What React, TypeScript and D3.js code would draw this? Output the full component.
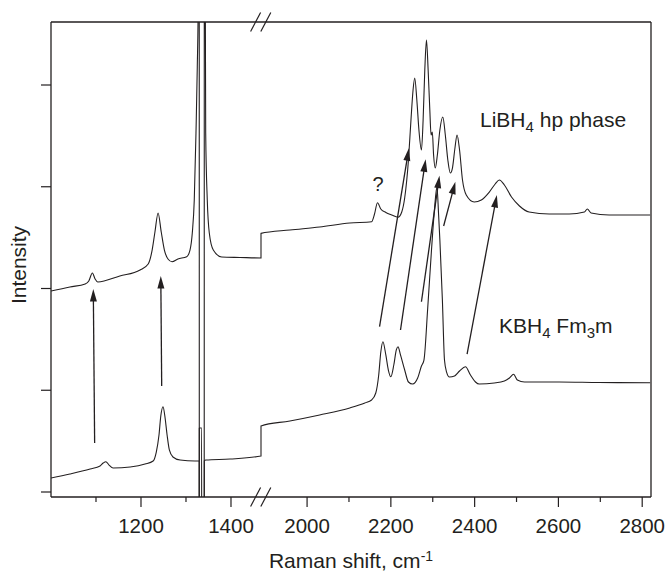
import React from 'react';
import * as d3 from 'd3';

// ---------- data ----------
const leftMajorTicks = [1200, 1400];
const leftMinorTicks = [1100, 1300];
const rightMajorTicks = [2000, 2200, 2400, 2600, 2800];
const rightMinorTicks = [2100, 2300, 2500, 2700];
const yTicks = [0, 1, 2, 3, 4];

// LiBH4 high-pressure phase spectrum (upper trace): [Raman shift, intensity a.u.]
const libh4Spectrum: [number, number][] = [
  [1000, 1.975], [1042, 2.015], [1076, 2.044], [1084, 2.074], [1092, 2.152], [1098, 2.093],
  [1104, 2.064], [1153, 2.123], [1198, 2.182], [1216, 2.241], [1224, 2.359], [1231, 2.555],
  [1238, 2.742], [1245, 2.555], [1252, 2.378], [1260, 2.29], [1269, 2.263], [1282, 2.29],
  [1301.6, 2.313], [1308.9, 2.378], [1314, 2.545], [1318.4, 2.87], [1322.2, 3.528], [1325.1, 4.177],
  [1327.3, 4.9], [1329.4, 8], [1329.6, -2], [1340.5, -2], [1340.7, 8], [1343.8, 3.528],
  [1347.3, 2.87], [1351.8, 2.545], [1360.7, 2.378], [1379.3, 2.31], [1420, 2.305], [1466.7, 2.3],
  [1890, 2.542], [1959, 2.575], [2030, 2.604], [2102, 2.644], [2154, 2.656], [2161, 2.732],
  [2168, 2.843], [2176, 2.781], [2188, 2.747], [2202, 2.722], [2217, 2.7], [2226, 2.752],
  [2233, 2.889], [2242, 3.263], [2248, 3.656], [2253, 3.951], [2257, 4.069], [2262, 3.853],
  [2267, 3.558], [2273, 3.361], [2277, 3.656], [2281, 4.147], [2285, 4.442], [2289, 4.147],
  [2293, 3.754], [2296, 3.509], [2299, 3.538], [2302, 3.312], [2306, 3.184], [2311, 3.312],
  [2317, 3.558], [2324, 3.686], [2330, 3.509], [2336, 3.263], [2342, 3.135], [2347, 3.184],
  [2353, 3.381], [2358, 3.509], [2364, 3.361], [2371, 3.066], [2380, 2.919], [2399, 2.85],
  [2416, 2.87], [2435, 2.948], [2449, 3.027], [2459, 3.066], [2471, 3.017], [2488, 2.899],
  [2507, 2.811], [2530, 2.752], [2578, 2.732], [2626, 2.732], [2662, 2.752], [2669, 2.781],
  [2678, 2.742], [2721, 2.722], [2769, 2.722], [2819, 2.722],
];

// KBH4 Fm3m spectrum (lower trace)
const kbh4Spectrum: [number, number][] = [
  [1000, 0.138], [1042, 0.177], [1087, 0.226], [1109, 0.256], [1116, 0.285], [1122, 0.298],
  [1129, 0.265], [1138, 0.236], [1176, 0.246], [1209, 0.275], [1227, 0.305], [1234, 0.393],
  [1240, 0.56], [1244, 0.747], [1249, 0.838], [1253, 0.747], [1258, 0.56], [1263, 0.413],
  [1271, 0.344], [1287, 0.314], [1320, 0.305], [1329.2, 0.305], [1329.4, -2], [1329.6, 0.629],
  [1334.8, 0.629], [1335, -2], [1340.5, -2], [1340.7, 0.305], [1344, 0.314], [1398, 0.324],
  [1466.7, 0.354],
  [1890, 0.649], [1959, 0.698], [2030, 0.757], [2102, 0.826], [2138, 0.875], [2154, 0.904],
  [2164, 0.973], [2171, 1.15], [2176, 1.376], [2181, 1.477], [2188, 1.347], [2194, 1.199],
  [2200, 1.133], [2207, 1.248], [2213, 1.396], [2217, 1.428], [2223, 1.347], [2233, 1.199],
  [2242, 1.081], [2252, 1.061], [2264, 1.12], [2273, 1.238], [2279, 1.297], [2288, 1.808],
  [2297, 2.378], [2304, 2.771], [2310, 2.998], [2314, 2.722], [2317, 2.477], [2323, 1.887],
  [2328, 1.297], [2333, 1.179], [2340, 1.13], [2352, 1.14], [2364, 1.189], [2378, 1.231],
  [2390, 1.15], [2402, 1.081], [2411, 1.061], [2447, 1.071], [2471, 1.091], [2483, 1.12],
  [2493, 1.157], [2502, 1.101], [2519, 1.081], [2602, 1.081], [2697, 1.076], [2819, 1.074],
];

// arrows: [tail shift, tail intensity, tip shift, tip intensity]
const peakArrows: [number, number, number, number][] = [
  [1097, 0.482, 1094, 1.995],
  [1246, 1.042, 1244, 2.123],
  [2173, 1.625, 2243, 3.378],
  [2223, 1.592, 2283, 3.27],
  [2273, 1.87, 2316, 3.109],
  [2326, 2.614, 2354, 3.05],
  [2382, 1.356, 2453, 2.919],
];

// ---------- layout ----------
const W = 667;
const H = 573;
const L = 51, R = 651, T = 22, B = 497;
const BREAK_PX = 261;
const FONT = "'Liberation Sans', Arial, Helvetica, sans-serif";
const INK = '#231f20';

const xLeft = d3.scaleLinear().domain([1000, 1466.7]).range([L, BREAK_PX]);
const xRight = d3.scaleLinear().domain([1890, 2821]).range([BREAK_PX, R]);
const xPos = (wn: number) => (wn < 1700 ? xLeft(wn) : xRight(wn));
const yScale = d3.scaleLinear().domain([0, 4]).range([492, 85]);

const line = d3
  .line<[number, number]>()
  .x((d) => xPos(d[0]))
  .y((d) => yScale(d[1]))
  .curve(d3.curveMonotoneX);

function Arrow({ a }: { a: [number, number, number, number] }) {
  const x1 = xPos(a[0]), y1 = yScale(a[1]);
  const x2 = xPos(a[2]), y2 = yScale(a[3]);
  const dx = x2 - x1, dy = y2 - y1;
  const len = Math.hypot(dx, dy);
  const ux = dx / len, uy = dy / len;
  const hl = 12.5, hw = 3.5;
  const bx = x2 - ux * hl, by = y2 - uy * hl;
  const px = -uy, py = ux;
  const pts = `${x2},${y2} ${bx + px * hw},${by + py * hw} ${bx - px * hw},${by - py * hw}`;
  return (
    <g>
      <line x1={x1} y1={y1} x2={bx + ux * 2} y2={by + uy * 2} stroke={INK} strokeWidth={1.3} />
      <polygon points={pts} fill={INK} />
    </g>
  );
}

function BreakMark({ cx, cy }: { cx: number; cy: number }) {
  return (
    <line x1={cx - 5} y1={cy + 9.5} x2={cx + 5} y2={cy - 9.5} stroke={INK} strokeWidth={1.2} />
  );
}

export default function App() {
  const tickLabelStyle = { fontFamily: FONT, fontSize: 20.5, fill: INK } as const;
  return (
    <svg
      width={W}
      height={H}
      viewBox={`0 0 ${W} ${H}`}
      style={{ position: 'absolute', left: 0, top: 0, display: 'block', background: '#fff' }}
    >
      <defs>
        <clipPath id="plotClip">
          <rect x={L} y={T} width={R - L} height={B - T} />
        </clipPath>
      </defs>
      <rect x={0} y={0} width={W} height={H} fill="#fff" />

      {/* spectra */}
      <g clipPath="url(#plotClip)" fill="none" stroke={INK} strokeWidth={1.1}>
        <path d={line(libh4Spectrum) || ''} />
        <path d={line(kbh4Spectrum) || ''} />
      </g>

      {/* frame */}
      <g stroke={INK} strokeWidth={1.3} fill="none">
        <line x1={L} y1={T} x2={R} y2={T} />
        <line x1={L} y1={B} x2={R} y2={B} />
        <line x1={L} y1={T} x2={L} y2={B} />
        <line x1={R} y1={T} x2={R} y2={B} />
      </g>

      {/* break marks */}
      <g>
        <BreakMark cx={255.6} cy={T} />
        <BreakMark cx={265.8} cy={T} />
        <BreakMark cx={255.6} cy={B} />
        <BreakMark cx={265.8} cy={B} />
      </g>

      {/* y ticks */}
      <g stroke={INK} strokeWidth={1.2}>
        {yTicks.map((t) => (
          <line key={t} x1={L - 10} x2={L} y1={yScale(t)} y2={yScale(t)} />
        ))}
      </g>

      {/* x ticks */}
      <g stroke={INK} strokeWidth={1.2}>
        {leftMajorTicks.map((t) => (
          <line key={'lM' + t} x1={xLeft(t)} x2={xLeft(t)} y1={B} y2={B + 10} />
        ))}
        {leftMinorTicks.map((t) => (
          <line key={'lm' + t} x1={xLeft(t)} x2={xLeft(t)} y1={B} y2={B + 5} />
        ))}
        {rightMajorTicks.map((t) => (
          <line key={'rM' + t} x1={xRight(t)} x2={xRight(t)} y1={B} y2={B + 10} />
        ))}
        {rightMinorTicks.map((t) => (
          <line key={'rm' + t} x1={xRight(t)} x2={xRight(t)} y1={B} y2={B + 5} />
        ))}
      </g>
      <g>
        {leftMajorTicks.map((t) => (
          <text key={'lt' + t} x={xLeft(t)} y={532.5} textAnchor="middle" style={tickLabelStyle}>
            {t}
          </text>
        ))}
        {rightMajorTicks.map((t) => (
          <text key={'rt' + t} x={xRight(t)} y={532.5} textAnchor="middle" style={tickLabelStyle}>
            {t}
          </text>
        ))}
      </g>

      {/* axis titles */}
      <text
        x={351}
        y={568}
        textAnchor="middle"
        style={{ fontFamily: FONT, fontSize: 21, fill: INK }}
      >
        Raman shift, cm
        <tspan dy={-7} style={{ fontSize: 14 }}>-1</tspan>
      </text>
      <text
        transform="translate(26,265) rotate(-90)"
        textAnchor="middle"
        style={{ fontFamily: FONT, fontSize: 21, fill: INK }}
      >
        Intensity
      </text>

      {/* arrows */}
      {peakArrows.map((a, i) => (
        <Arrow key={i} a={a} />
      ))}

      {/* labels */}
      <text x={480} y={127} style={{ fontFamily: FONT, fontSize: 21, fill: INK }}>
        LiBH<tspan dy={5} style={{ fontSize: 15 }}>4</tspan>
        <tspan dy={-5}> hp phase</tspan>
      </text>
      <text x={499} y={332.5} style={{ fontFamily: FONT, fontSize: 21, fill: INK }}>
        KBH<tspan dy={5} style={{ fontSize: 15 }}>4</tspan>
        <tspan dy={-5}> Fm</tspan>
        <tspan dy={5} style={{ fontSize: 15 }}>3</tspan>
        <tspan dy={-5}>m</tspan>
      </text>
      <text x={372.5} y={190.5} style={{ fontFamily: FONT, fontSize: 20, fill: INK }}>
        ?
      </text>
    </svg>
  );
}
